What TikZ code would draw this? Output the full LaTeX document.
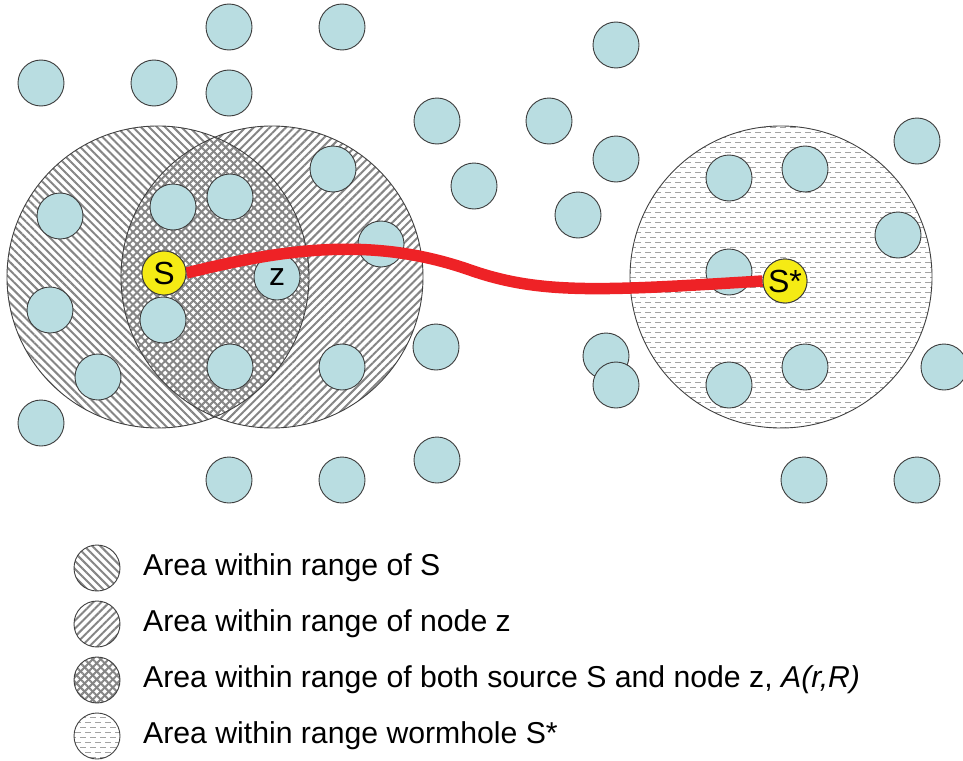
\documentclass[tikz,border=0pt]{standalone}
\usepackage{fontspec}
\setmainfont{Liberation Sans}
\usetikzlibrary{patterns,patterns.meta}
\definecolor{nodeblue}{HTML}{B9DDE1}
\definecolor{nodeedge}{HTML}{3C3C3C}
\definecolor{srcyellow}{HTML}{F5EB14}
\definecolor{pathred}{HTML}{EE2226}
\pgfdeclarepatternformonly{hdash}{\pgfpoint{-1pt}{-1pt}}{\pgfpoint{11pt}{11pt}}{\pgfpoint{10pt}{10pt}}{%
  \pgfsetlinewidth{1.2pt}%
  \pgfpathmoveto{\pgfqpoint{0pt}{2.5pt}}\pgfpathlineto{\pgfqpoint{6pt}{2.5pt}}%
  \pgfpathmoveto{\pgfqpoint{5pt}{7.5pt}}\pgfpathlineto{\pgfqpoint{10pt}{7.5pt}}%
  \pgfpathmoveto{\pgfqpoint{0pt}{7.5pt}}\pgfpathlineto{\pgfqpoint{1pt}{7.5pt}}%
  \pgfusepath{stroke}}
\tikzset{
  hatchS/.style={pattern={Lines[angle=-45,distance=5.7pt,line width=2pt]},pattern color=black!48},
  hatchZ/.style={pattern={Lines[angle=45,distance=5.7pt,line width=2pt]},pattern color=black!48},
  hatchW/.style={pattern=hdash,pattern color=black!36},
  rangeedge/.style={draw=black!75,line width=0.9pt},
  sensor/.style={circle,draw=nodeedge,line width=0.9pt,fill=nodeblue,minimum size=46pt,inner sep=0pt,font=\fontsize{32}{32}\selectfont},
  source/.style={circle,draw=nodeedge,line width=0.9pt,fill=srcyellow,minimum size=44pt,inner sep=0pt,font=\fontsize{32}{32}\selectfont},
  legtext/.style={anchor=west,inner sep=0pt,font=\fontsize{30.2}{33}\selectfont},
  wormpath/.style={draw=pathred,line width=11.5pt},
}
\begin{document}
\begin{tikzpicture}[x=1pt,y=-1pt]
\useasboundingbox (0,0) rectangle (963,760);
% ranges
\coordinate (cS) at (158,277);
\coordinate (cZ) at (272,277);
\coordinate (cW) at (781,277);
\fill[hatchS] (cS) circle[radius=151];
\fill[hatchZ] (cZ) circle[radius=151];
\fill[hatchW] (cW) circle[radius=151];
\draw[rangeedge] (cS) circle[radius=151];
\draw[rangeedge] (cZ) circle[radius=151];
\draw[rangeedge] (cW) circle[radius=151];
% sensor nodes
\foreach \x/\y [count=\i] in {229/27,342/27,616/45,41/83,154/83,229/93,437/121,549/121,917/141,333/169,616/159,474/186,729/178,805/169,60/216,173/207,230/197,578/215,898/235,381/244,729/272,50/310,163/320,436/347,606/356,616/385,98/377,230/367,342/367,729/385,805/367,944/367,41/423,437/460,229/480,342/480,804/480,917/480}
  \node[sensor] (n\i) at (\x,\y) {};
\node[sensor] (z) at (277,277) {z};
% wormhole path
\node[source] (S) at (164,273) {S};
\node[source] (Sstar) at (785,281) {S*};
\draw[wormpath] (S.east) .. controls (280,250) and (370,235) .. (470,270)
  .. controls (540,294.5) and (600,291) .. (Sstar.west);
\node[source] at (S) {S};
\node[source] at (Sstar) {S*};
% legend
\coordinate (l1) at (97,568);
\coordinate (l2) at (97,624);
\coordinate (l3) at (97,680);
\coordinate (l4) at (97,736);
\fill[hatchS] (l1) circle[radius=23];
\draw[rangeedge] (l1) circle[radius=23];
\fill[hatchZ] (l2) circle[radius=23];
\draw[rangeedge] (l2) circle[radius=23];
\fill[hatchS] (l3) circle[radius=23];
\fill[hatchZ] (l3) circle[radius=23];
\draw[rangeedge] (l3) circle[radius=23];
\fill[hatchW] (l4) circle[radius=23];
\draw[rangeedge] (l4) circle[radius=23];
\node[legtext] (t1) at (143,568) {Area within range of S};
\node[legtext] (t2) at (143,624) {Area within range of node z};
\node[legtext] (t3) at (143,680) {Area within range of both source S and node z, \textit{A(r,R)}};
\node[legtext] (t4) at (143,736) {Area within range wormhole S*};
\end{tikzpicture}
\end{document}
